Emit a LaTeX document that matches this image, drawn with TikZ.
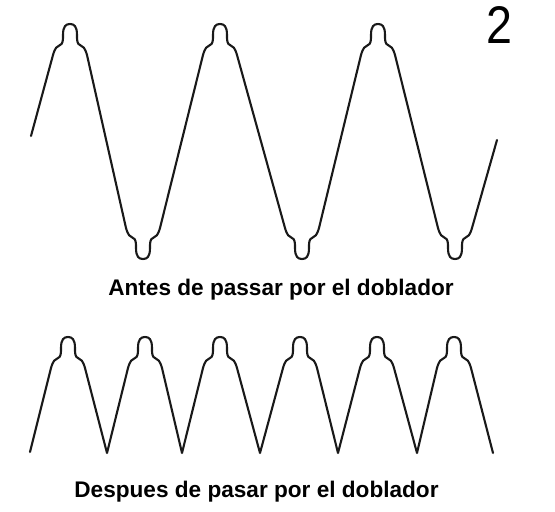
\documentclass[tikz,border=0pt]{standalone}
\usepackage{fontspec}
\setmainfont{Liberation Sans}

\begin{document}
\begin{tikzpicture}[x=1pt, y=-1pt,
    wave/.style={line width=2.1pt, line join=round, line cap=round, draw=black!90},
    caption/.style={font=\fontsize{22.6}{26}\selectfont\bfseries, anchor=base, inner sep=0pt}]
  \useasboundingbox (0,0) rectangle (555,512);
  % signal before the doubler
  \draw[wave] (31,136)
    \foreach \cx/\ty/\s in {70/24/1, 143/259/-1, 220/24/1, 302/259/-1, 378/24/1, 455/259/-1} {
      -- ({\cx-17},{\ty+\s*31})
      .. controls ({\cx-15},{\ty+\s*24}) and ({\cx-13},{\ty+\s*22}) .. ({\cx-10},{\ty+\s*21})
      .. controls ({\cx-7},{\ty+\s*20}) and ({\cx-7},{\ty+\s*16}) .. ({\cx-7},{\ty+\s*11})
      .. controls ({\cx-7},{\ty+\s*2}) and ({\cx-4},{\ty}) .. (\cx,\ty)
      .. controls ({\cx+4},{\ty}) and ({\cx+7},{\ty+\s*2}) .. ({\cx+7},{\ty+\s*11})
      .. controls ({\cx+7},{\ty+\s*16}) and ({\cx+7},{\ty+\s*20}) .. ({\cx+10},{\ty+\s*21})
      .. controls ({\cx+13},{\ty+\s*22}) and ({\cx+15},{\ty+\s*24}) .. ({\cx+17},{\ty+\s*31})
    } -- (497,140);
  % signal after the doubler
  \draw[wave] (30,452)
    \foreach \cx/\vx in {68/107, 145/182, 220/260, 300/338, 377/417, 454/493} {
      -- ({\cx-17},368)
      .. controls ({\cx-15},361) and ({\cx-13},359) .. ({\cx-10},358)
      .. controls ({\cx-7},357) and ({\cx-7},353) .. ({\cx-7},348)
      .. controls ({\cx-7},339) and ({\cx-4},337) .. (\cx,337)
      .. controls ({\cx+4},337) and ({\cx+7},339) .. ({\cx+7},348)
      .. controls ({\cx+7},353) and ({\cx+7},357) .. ({\cx+10},358)
      .. controls ({\cx+13},359) and ({\cx+15},361) .. ({\cx+17},368)
      -- (\vx,453)
    };
  % captions
  \node[caption] (antes) at (281,295) {Antes de passar por el doblador};
  \node[caption] (despues) at (256.5,497) {Despues de pasar por el doblador};
  % figure number
  \node[font=\fontsize{53}{60}\selectfont, xscale=0.88, anchor=base, inner sep=0pt] (fignum) at (499,43) {2};
\end{tikzpicture}
\end{document}
